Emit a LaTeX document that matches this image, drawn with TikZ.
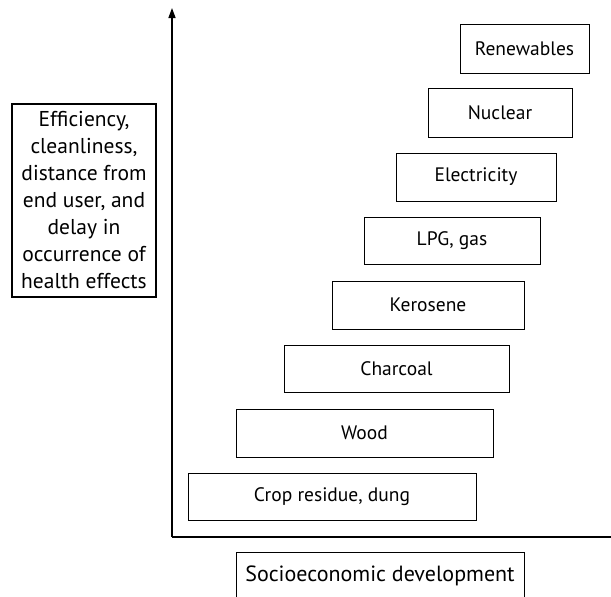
\documentclass[tikz,border=0pt]{standalone}
\usepackage{fontspec}
\setmainfont{PT Sans}
\usetikzlibrary{arrows.meta}
\begin{document}
\begin{tikzpicture}[x=1pt,y=-1pt,
  fuelbox/.style={draw,line width=0.9pt,inner sep=0pt,rectangle,font=\fontsize{19.5}{22}\selectfont},
  axis/.style={line width=1.4pt,-{Triangle[length=10pt,width=7pt]}}]
\useasboundingbox (0,0) rectangle (611,597);
\coordinate (origin) at (172,537);
\coordinate (ytop) at (172,8);
\coordinate (xend) at (621,537);
\draw[axis] (origin) -- (ytop);
\draw[axis] (origin) -- (xend);
\node[fuelbox,minimum width=129pt,minimum height=49pt] (ren) at (524.5,48.5) {Renewables};
\node[fuelbox,minimum width=144pt,minimum height=49pt] (nuc) at (500,112.5) {Nuclear};
\node[fuelbox,minimum width=160pt,minimum height=48pt] (ele) at (476,177) {Electricity};
\node[fuelbox,minimum width=176pt,minimum height=47pt] (lpg) at (452,240.5) {LPG, gas};
\node[fuelbox,minimum width=192pt,minimum height=48pt] (ker) at (428,305) {Kerosene};
\node[fuelbox,minimum width=225pt,minimum height=47pt] (cha) at (396.5,368.5) {Charcoal};
\node[fuelbox,minimum width=257pt,minimum height=48pt] (woo) at (364.5,433) {Wood};
\node[fuelbox,minimum width=288pt,minimum height=47pt] (cro) at (332,496.5) {Crop residue, dung};
\node[draw,line width=1.2pt,inner sep=0pt,minimum width=144pt,minimum height=193pt,
  align=center,font=\fontsize{21.5}{27}\selectfont] (yl) at (84,200.5)
  {Efficiency,\\cleanliness,\\distance from\\end user, and\\delay in\\occurrence of\\health effects};
\node[draw,line width=0.9pt,inner sep=0pt,minimum width=288pt,minimum height=50pt,
  font=\fontsize{22}{25}\selectfont,anchor=north] (xl) at (380,552) {\raisebox{8pt}{Socioeconomic development}};
\end{tikzpicture}
\end{document}
